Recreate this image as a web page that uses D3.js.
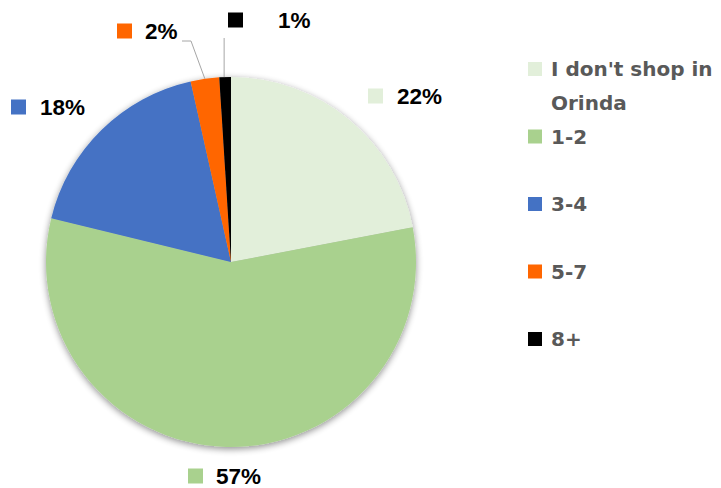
<!DOCTYPE html>
<html>
<head>
<meta charset="utf-8">
<script src="https://cdn.jsdelivr.net/npm/d3@7"></script>
<style>
  html, body { margin: 0; padding: 0; background: #fff; }
  svg { display: block; }
</style>
</head>
<body>
<svg id="chart" width="721" height="488"></svg>
<script>
// ---- data ----
const categories = ["I don't shop in Orinda", "1-2", "3-4", "5-7", "8+"];
const legendLines = [["I don't shop in", "Orinda"], ["1-2"], ["3-4"], ["5-7"], ["8+"]];
const values = [22.0, 56.8, 17.7, 2.49, 1.01];
const colors = ["#E2EFDA", "#A9D18E", "#4472C4", "#FF6600", "#000000"];

// ---- layout (separate from data) ----
const W = 721, H = 488;
const cx = 231, cy = 262, R = 185;
// data label anchor (left edge of the colour key, vertical centre)
const labelPos = [[368, 96], [188, 476], [11, 107], [117, 31], [228, 20]];
const labelGap = [29, 28, 29, 28, 50];

const svg = d3.select("#chart");
svg.append("rect").attr("width", W).attr("height", H).attr("fill", "#fff");

const defs = svg.append("defs");
const f = defs.append("filter").attr("id", "shadow")
  .attr("x", "-10%").attr("y", "-10%").attr("width", "120%").attr("height", "120%");
f.append("feGaussianBlur").attr("in", "SourceAlpha").attr("stdDeviation", 3.5).attr("result", "b");
f.append("feOffset").attr("in", "b").attr("dx", 0).attr("dy", 1.5).attr("result", "o");
f.append("feComponentTransfer").attr("in", "o").attr("result", "s")
  .append("feFuncA").attr("type", "linear").attr("slope", 0.45);
const m = f.append("feMerge");
m.append("feMergeNode").attr("in", "s");
m.append("feMergeNode").attr("in", "SourceGraphic");

const pie = d3.pie().sort(null).value(d => d);
const arcs = pie(values);
const arc = d3.arc().innerRadius(0).outerRadius(R);
const fmt = d3.format(".0%");
const total = d3.sum(values);

const g = svg.append("g").attr("transform", `translate(${cx},${cy})`);
g.append("g").attr("filter", "url(#shadow)")
  .selectAll("path").data(arcs).join("path")
  .attr("d", arc)
  .attr("fill", (d, i) => colors[i]);

// leader lines for the small slices
[3, 4].forEach(i => {
  const a = arcs[i];
  const mid = (a.startAngle + a.endAngle) / 2;
  const ex = cx + R * Math.sin(mid), ey = cy - R * Math.cos(mid);
  let pts;
  if (i === 3) {
    const lx = labelPos[i][0] + labelGap[i] + 37, ly = labelPos[i][1] + 10;
    pts = [[lx, ly], [lx + 9, ly], [ex, ey]];
  } else {
    const ly = labelPos[i][1] + 18;
    pts = [[ex - 1, ly], [ex - 1, ey]];
  }
  svg.append("path").attr("d", d3.line()(pts))
    .attr("fill", "none").attr("stroke", "#A6A6A6").attr("stroke-width", 1);
});

// data labels
const labels = svg.append("g");
arcs.forEach((a, i) => {
  const [x, y] = labelPos[i];
  labels.append("rect").attr("x", x).attr("y", y - 7.5)
    .attr("width", 15).attr("height", 15).attr("fill", colors[i]);
  labels.append("text").attr("x", x + labelGap[i]).attr("y", y)
    .attr("dy", "0.36em")
    .attr("font-family", "Liberation Sans, Arial, sans-serif").attr("font-weight", "bold")
    .attr("font-size", 22.5).attr("fill", "#000")
    .text(fmt(values[i] / total));
});

// legend
const ly = d3.scaleLinear().domain([0, 1]).range([69, 136.5]);
const leg = svg.append("g");
categories.forEach((c, i) => {
  const y = ly(i);
  leg.append("rect").attr("x", 528).attr("y", y - 7).attr("width", 14).attr("height", 14)
    .attr("fill", colors[i]);
  const t = leg.append("text").attr("x", 551).attr("y", y)
    .attr("font-family", "DejaVu Sans, sans-serif").attr("font-weight", "bold")
    .attr("font-size", 20).attr("fill", "#595959");
  legendLines[i].forEach((ln, k) => {
    t.append("tspan").attr("x", 551).attr("dy", k === 0 ? "0.36em" : "34px").text(ln);
  });
});
</script>
</body>
</html>
